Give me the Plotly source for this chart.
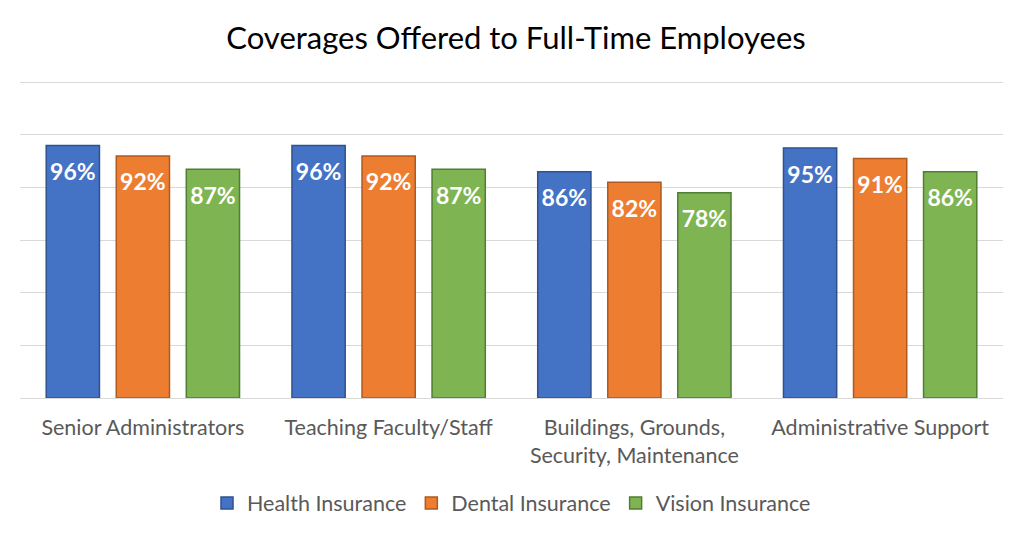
import plotly.graph_objects as go

categories = ["Senior Administrators", "Teaching Faculty/Staff",
              "Buildings, Grounds,<br>Security, Maintenance", "Administrative Support"]
health = [96, 96, 86, 95]
dental = [92, 92, 82, 91]
vision = [87, 87, 78, 86]

series = [
    ("Health Insurance", health, "#4472C4", "#2F528F"),
    ("Dental Insurance", dental, "#ED7D31", "#AE5A21"),
    ("Vision Insurance", vision, "#7FB452", "#507E32"),
]

fig = go.Figure()
for name, vals, col, edge in series:
    fig.add_trace(go.Bar(
        x=categories, y=vals, name=name,
        marker=dict(color=col, line=dict(color=edge, width=1.5)),
    ))
# value labels, grouped like the bars and sitting just under each bar top
for name, vals, col, edge in series:
    fig.add_trace(go.Scatter(
        x=categories, y=vals, mode="markers+text", showlegend=False,
        marker=dict(size=26, opacity=0),
        text=[f"<b>{v}%</b>" for v in vals],
        textposition="bottom center",
        textfont=dict(color="white", size=23, family="Lato"),
        hoverinfo="skip",
    ))

fig.update_layout(
    width=1016, height=528,
    paper_bgcolor="white", plot_bgcolor="white",
    margin=dict(l=12, r=21, t=73, b=138),
    title=dict(text="Coverages Offered to Full-Time Employees", x=0.5, xanchor="center",
               y=0.943, yanchor="middle",
               font=dict(family="Lato", size=31, color="black")),
    barmode="group", bargap=0.145, bargroupgap=0.24,
    scattermode="group", scattergap=0.145,
    font=dict(family="Lato", color="#595959"),
    legend=dict(orientation="h", x=0.5, xanchor="center", y=0.0625, yanchor="middle",
                yref="container", font=dict(size=21.5, color="#595959"), itemwidth=30),
)
fig.update_xaxes(tickfont=dict(size=21.5, color="#595959"), showline=True,
                 linecolor="#D9D9D9", linewidth=1, ticks="", ticklabelstandoff=10)
fig.update_yaxes(range=[0, 120.5], dtick=20, showticklabels=False, gridcolor="#D9D9D9",
                 gridwidth=1, zeroline=False)

fig.write_html("out.html")
